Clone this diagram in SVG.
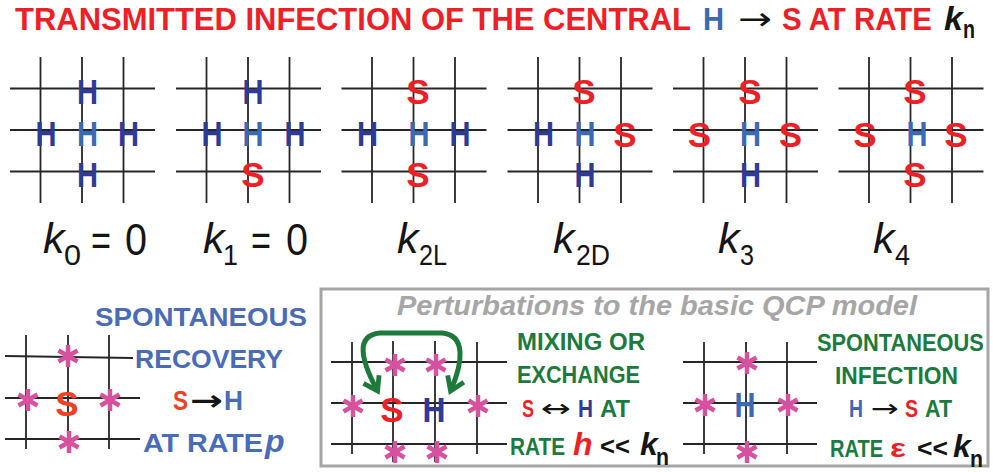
<svg xmlns="http://www.w3.org/2000/svg" xmlns:xlink="http://www.w3.org/1999/xlink" width="993" height="472" viewBox="0 0 993 472">
<style>
.gl{stroke:#262626;stroke-width:1.8;fill:none}
.L{font-family:"Liberation Sans",Arial,sans-serif;font-weight:bold;font-size:35px;text-anchor:middle}
.hd{fill:#2E3B96}
.hc{fill:#3B6AB3}
.sr{fill:#EE1F26}
.kl{font-family:"Liberation Sans",Arial,sans-serif;fill:#151515}
.ki{font-style:italic;font-size:43px}
.ks{font-size:30px}
.ke{font-size:45px}
.t{font-family:"Liberation Sans",Arial,sans-serif;font-weight:bold}
.ar{font-family:"DejaVu Sans",sans-serif;fill:#151515}
.gr{fill:#1B7A3D}
.bl{fill:#4A6CB7}
.ast{stroke:#D6519E;stroke-width:4.5;fill:none}
</style>
<defs>
<g id="grid">
<line class="gl" x1="-41.5" y1="-73" x2="-41.5" y2="73"/>
<line class="gl" x1="0" y1="-73" x2="0" y2="73"/>
<line class="gl" x1="41.5" y1="-73" x2="41.5" y2="73"/>
<line class="gl" x1="-72" y1="-41.5" x2="73" y2="-41.5"/>
<line class="gl" x1="-72" y1="0" x2="73" y2="0"/>
<line class="gl" x1="-72" y1="41.5" x2="73" y2="41.5"/>
</g>
<g id="ast" class="ast">
<line x1="0" y1="-11" x2="0" y2="11"/>
<line x1="-9.5" y1="-5.5" x2="9.5" y2="5.5"/>
<line x1="-9.5" y1="5.5" x2="9.5" y2="-5.5"/>
</g>
<marker id="ah" viewBox="0 0 10 10" refX="7" refY="5" markerWidth="4.4" markerHeight="4.4" orient="auto-start-reverse" markerUnits="strokeWidth">
<path d="M1.5,1 L7.5,5 L1.5,9" fill="none" stroke="#1E7A3A" stroke-width="2.2" stroke-linejoin="miter"/>
</marker>
</defs>

<g id="title">
<text class="t sr" transform="translate(15 30) scale(1 1.16)" x="0" y="0" font-size="27.5" textLength="676" lengthAdjust="spacingAndGlyphs">TRANSMITTED INFECTION OF THE CENTRAL</text>
<text class="t hc" x="703" y="30" font-size="32" textLength="21" lengthAdjust="spacingAndGlyphs">H</text>
<text class="ar" x="738" y="30" font-size="32" textLength="34" lengthAdjust="spacingAndGlyphs">→</text>
<text class="t sr" x="782" y="30" font-size="32" textLength="150" lengthAdjust="spacingAndGlyphs">S AT RATE</text>
<text class="t" x="944" y="30" font-size="34" font-style="italic" fill="#151515">k</text>
<text class="t" x="963" y="38" font-size="26" fill="#151515" textLength="12" lengthAdjust="spacingAndGlyphs">n</text>
</g>

<g id="grids">
<use xlink:href="#grid" href="#grid" x="82" y="130"/>
<use xlink:href="#grid" href="#grid" x="248" y="130"/>
<use xlink:href="#grid" href="#grid" x="413.5" y="130"/>
<use xlink:href="#grid" href="#grid" x="579.5" y="130"/>
<use xlink:href="#grid" href="#grid" x="745" y="130"/>
<use xlink:href="#grid" href="#grid" x="910.5" y="130"/>
</g>

<g id="cell-k0">
<text class="L hd" x="87.5" y="104" textLength="21" lengthAdjust="spacingAndGlyphs">H</text>
<text class="L hd" x="46" y="146" textLength="21" lengthAdjust="spacingAndGlyphs">H</text>
<text class="L hc" x="87.5" y="146" textLength="21" lengthAdjust="spacingAndGlyphs">H</text>
<text class="L hd" x="128.5" y="146" textLength="21" lengthAdjust="spacingAndGlyphs">H</text>
<text class="L hd" x="87.5" y="187" textLength="21" lengthAdjust="spacingAndGlyphs">H</text>
</g>
<g id="cell-k1">
<text class="L hd" x="253" y="104" textLength="21" lengthAdjust="spacingAndGlyphs">H</text>
<text class="L hd" x="212" y="146" textLength="21" lengthAdjust="spacingAndGlyphs">H</text>
<text class="L hc" x="253" y="146" textLength="21" lengthAdjust="spacingAndGlyphs">H</text>
<text class="L hd" x="295" y="146" textLength="21" lengthAdjust="spacingAndGlyphs">H</text>
<text class="L sr" x="253" y="187">S</text>
</g>
<g id="cell-k2L">
<text class="L sr" x="418" y="104">S</text>
<text class="L hd" x="367.5" y="146" textLength="21" lengthAdjust="spacingAndGlyphs">H</text>
<text class="L hc" x="419" y="146" textLength="21" lengthAdjust="spacingAndGlyphs">H</text>
<text class="L hd" x="460" y="146" textLength="21" lengthAdjust="spacingAndGlyphs">H</text>
<text class="L sr" x="418" y="187">S</text>
</g>
<g id="cell-k2D">
<text class="L sr" x="584" y="104">S</text>
<text class="L hd" x="543.5" y="146" textLength="21" lengthAdjust="spacingAndGlyphs">H</text>
<text class="L hc" x="585" y="146" textLength="21" lengthAdjust="spacingAndGlyphs">H</text>
<text class="L sr" x="625" y="147">S</text>
<text class="L hd" x="585" y="187" textLength="21" lengthAdjust="spacingAndGlyphs">H</text>
</g>
<g id="cell-k3">
<text class="L sr" x="750" y="104">S</text>
<text class="L sr" x="699.5" y="147">S</text>
<text class="L hc" x="750.5" y="146" textLength="21" lengthAdjust="spacingAndGlyphs">H</text>
<text class="L sr" x="790.5" y="147">S</text>
<text class="L hd" x="750.5" y="187" textLength="21" lengthAdjust="spacingAndGlyphs">H</text>
</g>
<g id="cell-k4">
<text class="L sr" x="915" y="104">S</text>
<text class="L sr" x="865" y="147">S</text>
<text class="L hc" x="917" y="146" textLength="21" lengthAdjust="spacingAndGlyphs">H</text>
<text class="L sr" x="956" y="147">S</text>
<text class="L sr" x="915" y="187">S</text>
</g>

<g id="rate-labels" class="kl">
<text class="ki" x="43" y="253">k</text><text class="ks" x="64" y="265" textLength="17" lengthAdjust="spacingAndGlyphs">0</text><text class="ke" x="91" y="255" textLength="20" lengthAdjust="spacingAndGlyphs">=</text><text class="ke" x="125" y="255" textLength="22" lengthAdjust="spacingAndGlyphs">0</text>
<text class="ki" x="203" y="253">k</text><text class="ks" x="223" y="265" textLength="15" lengthAdjust="spacingAndGlyphs">1</text><text class="ke" x="251" y="255" textLength="20" lengthAdjust="spacingAndGlyphs">=</text><text class="ke" x="286" y="255" textLength="22" lengthAdjust="spacingAndGlyphs">0</text>
<text class="ki" x="397" y="253">k</text><text class="ks" x="419" y="265" textLength="28" lengthAdjust="spacingAndGlyphs">2L</text>
<text class="ki" x="553" y="253">k</text><text class="ks" x="576" y="265" textLength="34" lengthAdjust="spacingAndGlyphs">2D</text>
<text class="ki" x="718" y="253">k</text><text class="ks" x="740" y="265" textLength="14" lengthAdjust="spacingAndGlyphs">3</text>
<text class="ki" x="873" y="253">k</text><text class="ks" x="895" y="265" textLength="15" lengthAdjust="spacingAndGlyphs">4</text>
</g>

<g id="recovery">
<line class="gl" x1="26" y1="335" x2="26" y2="449"/>
<line class="gl" x1="68" y1="335" x2="68" y2="449"/>
<line class="gl" x1="109" y1="335" x2="109" y2="449"/>
<line class="gl" x1="5" y1="356" x2="133" y2="358"/>
<line class="gl" x1="5" y1="398" x2="140" y2="398"/>
<line class="gl" x1="5" y1="439" x2="140" y2="439"/>
<use xlink:href="#ast" href="#ast" x="68" y="356"/>
<use xlink:href="#ast" href="#ast" x="28" y="400"/>
<use xlink:href="#ast" href="#ast" x="110" y="400"/>
<use xlink:href="#ast" href="#ast" x="69" y="442"/>
<text class="L" x="67" y="416" font-size="38" fill="#EF4123">S</text>
<text class="t bl" x="95" y="326" font-size="26.5" textLength="212" lengthAdjust="spacingAndGlyphs">SPONTANEOUS</text>
<text class="t bl" x="135" y="368" font-size="26.5" textLength="148" lengthAdjust="spacingAndGlyphs">RECOVERY</text>
<text class="t" transform="translate(173 410) scale(1 1.25)" x="0" y="0" font-size="22.5" fill="#EF4123">S</text>
<text class="ar" x="190" y="410" font-size="28" textLength="33" lengthAdjust="spacingAndGlyphs" font-weight="bold">→</text>
<text class="t bl" x="224" y="410" font-size="28" textLength="19" lengthAdjust="spacingAndGlyphs">H</text>
<text class="t bl" x="143" y="452" font-size="26.5" textLength="120" lengthAdjust="spacingAndGlyphs">AT RATE</text>
<text class="t bl" x="265" y="452" font-size="32" font-style="italic">p</text>
</g>

<rect x="321" y="289" width="667" height="177" fill="none" stroke="#A5A5A5" stroke-width="3"/>
<text class="t" x="397" y="315" font-size="28" font-style="italic" fill="#A6A6A6" textLength="520" lengthAdjust="spacingAndGlyphs">Perturbations to the basic QCP model</text>

<g id="mixing">
<line class="gl" x1="352" y1="342" x2="352" y2="454"/>
<line class="gl" x1="393" y1="341" x2="393" y2="462"/>
<line class="gl" x1="435" y1="341" x2="435" y2="462"/>
<line class="gl" x1="477" y1="342" x2="477" y2="454"/>
<line class="gl" x1="331" y1="362" x2="507" y2="362"/>
<line class="gl" x1="331" y1="403" x2="507" y2="403"/>
<line class="gl" x1="331" y1="444" x2="507" y2="444"/>
<use xlink:href="#ast" href="#ast" x="395" y="365"/>
<use xlink:href="#ast" href="#ast" x="436" y="365"/>
<use xlink:href="#ast" href="#ast" x="353" y="406"/>
<use xlink:href="#ast" href="#ast" x="478" y="406"/>
<use xlink:href="#ast" href="#ast" x="395" y="452"/>
<use xlink:href="#ast" href="#ast" x="437" y="452"/>
<text class="L sr" x="392" y="422" font-size="38">S</text>
<text class="L hd" x="434" y="422" font-size="38" textLength="23" lengthAdjust="spacingAndGlyphs">H</text>
<text class="t gr" x="517" y="350" font-size="24.5" textLength="128" lengthAdjust="spacingAndGlyphs">MIXING OR</text>
<text class="t gr" x="517" y="383" font-size="24.5" textLength="123" lengthAdjust="spacingAndGlyphs">EXCHANGE</text>
<text class="t sr" x="522" y="417" font-size="24.5" textLength="12" lengthAdjust="spacingAndGlyphs">S</text>
<text class="ar" x="541" y="417" font-size="24.5" textLength="30" lengthAdjust="spacingAndGlyphs">↔</text>
<text class="t hd" x="578" y="417" font-size="24.5" textLength="15" lengthAdjust="spacingAndGlyphs">H</text>
<text class="t gr" x="600" y="417" font-size="24.5" textLength="30" lengthAdjust="spacingAndGlyphs">AT</text>
<text class="t gr" transform="translate(510 455) scale(0.85 1)" x="0" y="0" font-size="24.5">RATE</text>
<text class="t sr" x="573" y="455" font-size="32" font-style="italic">h</text>
<text class="t" x="600" y="455" font-size="26" fill="#151515" textLength="30" lengthAdjust="spacingAndGlyphs">&lt;&lt;</text>
<text class="t" x="640" y="455" font-size="32" font-style="italic" fill="#151515">k</text>
<text class="t" x="656" y="465" font-size="24" fill="#151515" textLength="13" lengthAdjust="spacingAndGlyphs">n</text>
</g>

<g id="connectors">
<path d="M377,390 C361,360 355,335 380,333 L442,333 C466,335 463,362 451,390" fill="none" stroke="#1E7A3A" stroke-width="5" marker-start="url(#ah)" marker-end="url(#ah)"/>
</g>

<g id="infection">
<line class="gl" x1="704" y1="342" x2="704" y2="454"/>
<line class="gl" x1="746" y1="342" x2="746" y2="454"/>
<line class="gl" x1="787" y1="342" x2="787" y2="454"/>
<line class="gl" x1="683" y1="362" x2="817" y2="362"/>
<line class="gl" x1="683" y1="403" x2="817" y2="403"/>
<line class="gl" x1="683" y1="444" x2="817" y2="444"/>
<use xlink:href="#ast" href="#ast" x="747" y="363"/>
<use xlink:href="#ast" href="#ast" x="705" y="405"/>
<use xlink:href="#ast" href="#ast" x="788" y="405"/>
<use xlink:href="#ast" href="#ast" x="747" y="452"/>
<text class="L hc" x="745" y="417" textLength="21" lengthAdjust="spacingAndGlyphs">H</text>
<text class="t gr" transform="translate(817 351) scale(0.89 1)" x="0" y="0" font-size="24.5">SPONTANEOUS</text>
<text class="t gr" x="835" y="384" font-size="24.5" textLength="123" lengthAdjust="spacingAndGlyphs">INFECTION</text>
<text class="t hc" x="849" y="417" font-size="24.5" textLength="14" lengthAdjust="spacingAndGlyphs">H</text>
<text class="ar" x="871" y="417" font-size="24.5" textLength="28" lengthAdjust="spacingAndGlyphs">→</text>
<text class="t sr" x="905" y="417" font-size="24.5" textLength="13" lengthAdjust="spacingAndGlyphs">S</text>
<text class="t gr" x="925" y="417" font-size="24.5" textLength="27" lengthAdjust="spacingAndGlyphs">AT</text>
<text class="t gr" transform="translate(830 457) scale(0.82 1)" x="0" y="0" font-size="24.5">RATE</text>
<text class="t sr" x="890" y="457" font-size="26" textLength="16" lengthAdjust="spacingAndGlyphs">ε</text>
<text class="t" x="917" y="457" font-size="26" fill="#151515" textLength="31" lengthAdjust="spacingAndGlyphs">&lt;&lt;</text>
<text class="t" x="953" y="457" font-size="32" font-style="italic" fill="#151515">k</text>
<text class="t" x="970" y="467" font-size="24" fill="#151515" textLength="13" lengthAdjust="spacingAndGlyphs">n</text>
</g>
</svg>
